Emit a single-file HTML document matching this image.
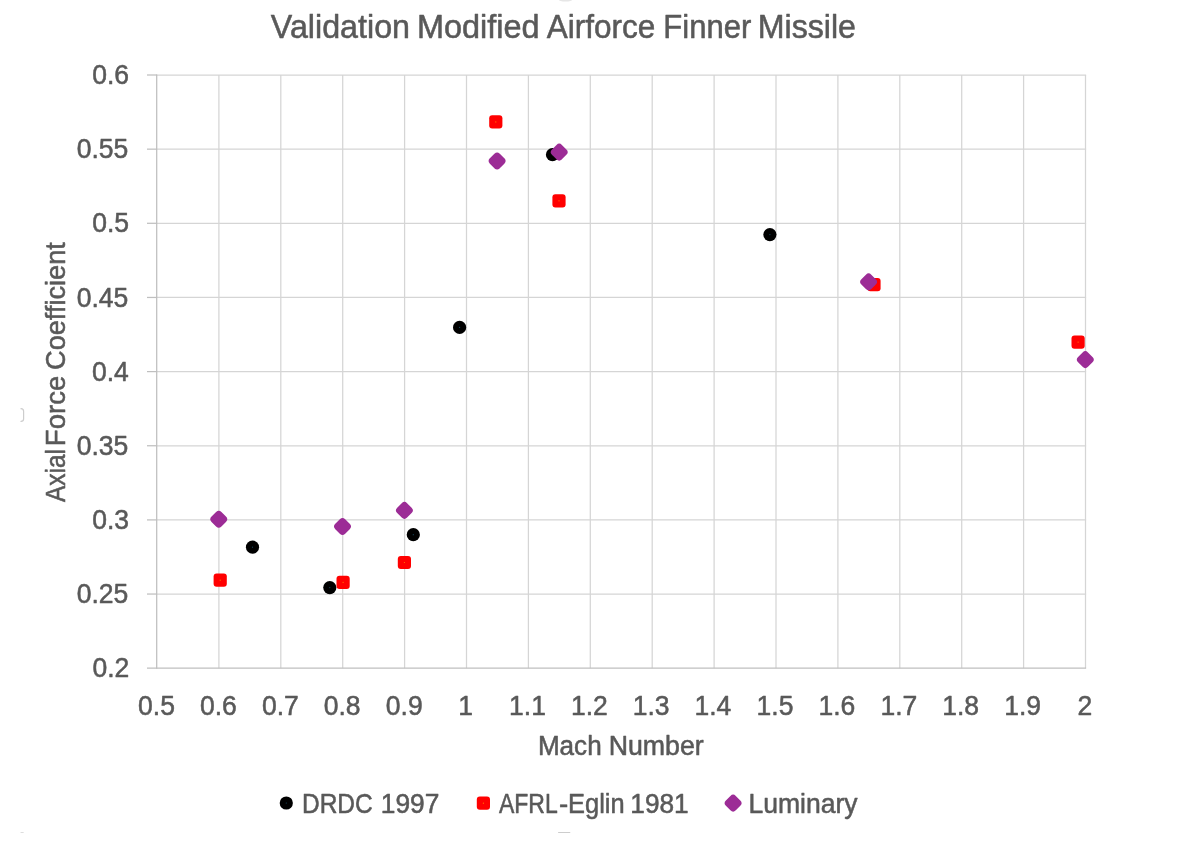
<!DOCTYPE html>
<html lang="en"><head><meta charset="utf-8"><title>Validation Modified Airforce Finner Missile</title>
<style>
html,body{margin:0;padding:0;background:#fff;}
body{width:1200px;height:864px;overflow:hidden;}
svg{display:block;}
text{font-family:"Liberation Sans",sans-serif;fill:#595959;stroke:#595959;stroke-width:0.55;stroke-linejoin:round;}
</style></head><body>
<svg width="1200" height="864" viewBox="0 0 1200 864">
<rect width="1200" height="864" fill="#fff"/>

<g stroke="#d5d5d5" stroke-width="1.25" fill="none">
<line x1="218.90" y1="75.00" x2="218.90" y2="668.20"/>
<line x1="280.80" y1="75.00" x2="280.80" y2="668.20"/>
<line x1="342.70" y1="75.00" x2="342.70" y2="668.20"/>
<line x1="404.60" y1="75.00" x2="404.60" y2="668.20"/>
<line x1="466.50" y1="75.00" x2="466.50" y2="668.20"/>
<line x1="528.40" y1="75.00" x2="528.40" y2="668.20"/>
<line x1="590.30" y1="75.00" x2="590.30" y2="668.20"/>
<line x1="652.20" y1="75.00" x2="652.20" y2="668.20"/>
<line x1="714.10" y1="75.00" x2="714.10" y2="668.20"/>
<line x1="776.00" y1="75.00" x2="776.00" y2="668.20"/>
<line x1="837.90" y1="75.00" x2="837.90" y2="668.20"/>
<line x1="899.80" y1="75.00" x2="899.80" y2="668.20"/>
<line x1="961.70" y1="75.00" x2="961.70" y2="668.20"/>
<line x1="1023.60" y1="75.00" x2="1023.60" y2="668.20"/>
<line x1="1085.50" y1="75.00" x2="1085.50" y2="668.20"/>
<line x1="157.00" y1="75.00" x2="1086.10" y2="75.00"/>
<line x1="157.00" y1="149.15" x2="1086.10" y2="149.15"/>
<line x1="157.00" y1="223.30" x2="1086.10" y2="223.30"/>
<line x1="157.00" y1="297.45" x2="1086.10" y2="297.45"/>
<line x1="157.00" y1="371.60" x2="1086.10" y2="371.60"/>
<line x1="157.00" y1="445.75" x2="1086.10" y2="445.75"/>
<line x1="157.00" y1="519.90" x2="1086.10" y2="519.90"/>
<line x1="157.00" y1="594.05" x2="1086.10" y2="594.05"/>
</g>
<g stroke="#bfbfbf" stroke-width="1.25" fill="none">
<line x1="156.70" y1="74.40" x2="156.70" y2="668.80"/>
<line x1="147.00" y1="75.00" x2="157.00" y2="75.00"/>
<line x1="147.00" y1="149.15" x2="157.00" y2="149.15"/>
<line x1="147.00" y1="223.30" x2="157.00" y2="223.30"/>
<line x1="147.00" y1="297.45" x2="157.00" y2="297.45"/>
<line x1="147.00" y1="371.60" x2="157.00" y2="371.60"/>
<line x1="147.00" y1="445.75" x2="157.00" y2="445.75"/>
<line x1="147.00" y1="519.90" x2="157.00" y2="519.90"/>
<line x1="147.00" y1="594.05" x2="157.00" y2="594.05"/>
<line x1="147.00" y1="668.20" x2="1086.10" y2="668.20"/>
</g>
<text transform="translate(92.23 84.15) scale(0.94 1)" font-size="28.2">0.6</text>
<text transform="translate(76.69 158.30) scale(0.94 1)" font-size="28.2">0.55</text>
<text transform="translate(92.23 232.45) scale(0.94 1)" font-size="28.2">0.5</text>
<text transform="translate(76.69 306.60) scale(0.94 1)" font-size="28.2">0.45</text>
<text transform="translate(91.97 380.75) scale(0.94 1)" font-size="28.2">0.4</text>
<text transform="translate(76.69 454.90) scale(0.94 1)" font-size="28.2">0.35</text>
<text transform="translate(92.23 529.05) scale(0.94 1)" font-size="28.2">0.3</text>
<text transform="translate(76.69 603.20) scale(0.94 1)" font-size="28.2">0.25</text>
<text transform="translate(92.50 677.35) scale(0.94 1)" font-size="28.2">0.2</text>
<text transform="translate(138.06 715.1) scale(0.94 1)" font-size="28.2">0.5</text>
<text transform="translate(199.96 715.1) scale(0.94 1)" font-size="28.2">0.6</text>
<text transform="translate(261.99 715.1) scale(0.94 1)" font-size="28.2">0.7</text>
<text transform="translate(323.76 715.1) scale(0.94 1)" font-size="28.2">0.8</text>
<text transform="translate(385.79 715.1) scale(0.94 1)" font-size="28.2">0.9</text>
<text transform="translate(458.21 715.1) scale(0.94 1)" font-size="28.2">1</text>
<text transform="translate(509.06 715.1) scale(0.94 1)" font-size="28.2">1.1</text>
<text transform="translate(570.96 715.1) scale(0.94 1)" font-size="28.2">1.2</text>
<text transform="translate(632.73 715.1) scale(0.94 1)" font-size="28.2">1.3</text>
<text transform="translate(694.49 715.1) scale(0.94 1)" font-size="28.2">1.4</text>
<text transform="translate(756.53 715.1) scale(0.94 1)" font-size="28.2">1.5</text>
<text transform="translate(818.43 715.1) scale(0.94 1)" font-size="28.2">1.6</text>
<text transform="translate(880.46 715.1) scale(0.94 1)" font-size="28.2">1.7</text>
<text transform="translate(942.23 715.1) scale(0.94 1)" font-size="28.2">1.8</text>
<text transform="translate(1004.26 715.1) scale(0.94 1)" font-size="28.2">1.9</text>
<text transform="translate(1077.48 715.1) scale(0.94 1)" font-size="28.2">2</text>
<text y="37.50" font-size="33"><tspan x="270.77" textLength="139.26" lengthAdjust="spacingAndGlyphs">Validation</tspan> <tspan x="416.93" textLength="122.62" lengthAdjust="spacingAndGlyphs">Modified</tspan> <tspan x="546.67" textLength="108.59" lengthAdjust="spacingAndGlyphs">Airforce</tspan> <tspan x="663.29" textLength="88.04" lengthAdjust="spacingAndGlyphs">Finner</tspan> <tspan x="757.70" textLength="98.29" lengthAdjust="spacingAndGlyphs">Missile</tspan></text>
<text y="755.30" font-size="27.0"><tspan x="537.89" textLength="63.80" lengthAdjust="spacingAndGlyphs">Mach</tspan> <tspan x="608.64" textLength="95.14" lengthAdjust="spacingAndGlyphs">Number</tspan></text>
<text transform="translate(65.4 501.5) rotate(-90)" y="0.00" font-size="28.5"><tspan x="-0.53" textLength="52.97" lengthAdjust="spacingAndGlyphs">Axial</tspan> <tspan x="55.37" textLength="70.35" lengthAdjust="spacingAndGlyphs">Force</tspan> <tspan x="131.52" textLength="127.85" lengthAdjust="spacingAndGlyphs">Coefficient</tspan></text>
<g fill="#000">
<circle cx="252.5" cy="547.2" r="6.6"/>
<circle cx="329.8" cy="587.6" r="6.6"/>
<circle cx="413.3" cy="534.7" r="6.6"/>
<circle cx="459.6" cy="327.4" r="6.6"/>
<circle cx="552.5" cy="154.7" r="6.6"/>
<circle cx="769.9" cy="234.6" r="6.6"/>
<circle cx="252.5" cy="547.2" r="0.6" fill="#16475c"/>
<circle cx="329.8" cy="587.6" r="0.6" fill="#16475c"/>
<circle cx="413.3" cy="534.7" r="0.6" fill="#16475c"/>
<circle cx="459.6" cy="327.4" r="0.6" fill="#16475c"/>
<circle cx="552.5" cy="154.7" r="0.6" fill="#16475c"/>
<circle cx="769.9" cy="234.6" r="0.6" fill="#16475c"/>
</g><g fill="#ff0000">
<rect x="213.6" y="573.6" width="13.2" height="13.2" rx="3"/>
<rect x="336.5" y="575.7" width="13.2" height="13.2" rx="3"/>
<rect x="397.8" y="555.9" width="13.2" height="13.2" rx="3"/>
<rect x="489.2" y="115.3" width="13.2" height="13.2" rx="3"/>
<rect x="552.4" y="194.2" width="13.2" height="13.2" rx="3"/>
<rect x="867.4" y="278.1" width="13.2" height="13.2" rx="3"/>
<rect x="1071.5" y="335.5" width="13.2" height="13.2" rx="3"/>
<circle cx="220.2" cy="580.2" r="0.6" fill="#ff7a00"/>
<circle cx="343.1" cy="582.3" r="0.6" fill="#ff7a00"/>
<circle cx="404.4" cy="562.5" r="0.6" fill="#ff7a00"/>
<circle cx="495.8" cy="121.9" r="0.6" fill="#ff7a00"/>
<circle cx="559.0" cy="200.8" r="0.6" fill="#ff7a00"/>
<circle cx="874.0" cy="284.7" r="0.6" fill="#ff7a00"/>
<circle cx="1078.1" cy="342.1" r="0.6" fill="#ff7a00"/>
</g><g fill="#9c2c96">
<rect x="211.75" y="512.20" width="14.00" height="14.00" rx="3.8" transform="rotate(45 218.75 519.20)"/>
<rect x="335.50" y="519.50" width="14.00" height="14.00" rx="3.8" transform="rotate(45 342.50 526.50)"/>
<rect x="397.40" y="503.40" width="14.00" height="14.00" rx="3.8" transform="rotate(45 404.40 510.40)"/>
<rect x="490.10" y="154.00" width="14.00" height="14.00" rx="3.8" transform="rotate(45 497.10 161.00)"/>
<rect x="552.20" y="145.10" width="14.00" height="14.00" rx="3.8" transform="rotate(45 559.20 152.10)"/>
<rect x="861.60" y="274.90" width="14.00" height="14.00" rx="3.8" transform="rotate(45 868.60 281.90)"/>
<rect x="1078.30" y="352.60" width="14.00" height="14.00" rx="3.8" transform="rotate(45 1085.30 359.60)"/>
</g>
<circle cx="286.3" cy="803.0" r="6.6" fill="#000"/><circle cx="286.3" cy="803.0" r="0.6" fill="#16475c"/>
<text y="812.50" font-size="27.8" stroke-width="0.25"><tspan x="301.97" textLength="70.70" lengthAdjust="spacingAndGlyphs">DRDC</tspan> <tspan x="380.78" textLength="58.61" lengthAdjust="spacingAndGlyphs">1997</tspan></text>
<rect x="476.8" y="796.6" width="13.2" height="13.2" rx="3" fill="#ff0000"/>
<circle cx="483.4" cy="803.2" r="0.6" fill="#ff7a00"/>
<text y="812.50" font-size="27.8" stroke-width="0.25"><tspan x="498.88" textLength="58.80" lengthAdjust="spacingAndGlyphs">AFRL</tspan><tspan x="559.01" textLength="9.26" lengthAdjust="spacingAndGlyphs">-</tspan><tspan x="568.09" textLength="56.51" lengthAdjust="spacingAndGlyphs">Eglin</tspan> <tspan x="630.29" textLength="58.40" lengthAdjust="spacingAndGlyphs">1981</tspan></text>
<g fill="#9c2c96"><rect x="726.10" y="796.10" width="14.00" height="14.00" rx="3.8" transform="rotate(45 733.10 803.10)"/></g>
<text y="812.50" font-size="27.8" stroke-width="0.25"><tspan x="748.40" textLength="109.17" lengthAdjust="spacingAndGlyphs">Luminary</tspan></text>
<g fill="none" stroke="#cdcdcd" stroke-width="1.2" stroke-linecap="round">
<path d="M21 408.7 Q23.6 408.9 23.6 411.2 L23.6 418.9 Q23.6 421.2 21 421.4"/>
<line x1="558.6" y1="832.5" x2="569.8" y2="832.5"/>
<line x1="21" y1="832.5" x2="23.2" y2="832.5" stroke="#dddddd"/>
</g>
<ellipse cx="565.5" cy="-0.6" rx="7" ry="2.2" fill="#e6e6e6"/>
</svg></body></html>
